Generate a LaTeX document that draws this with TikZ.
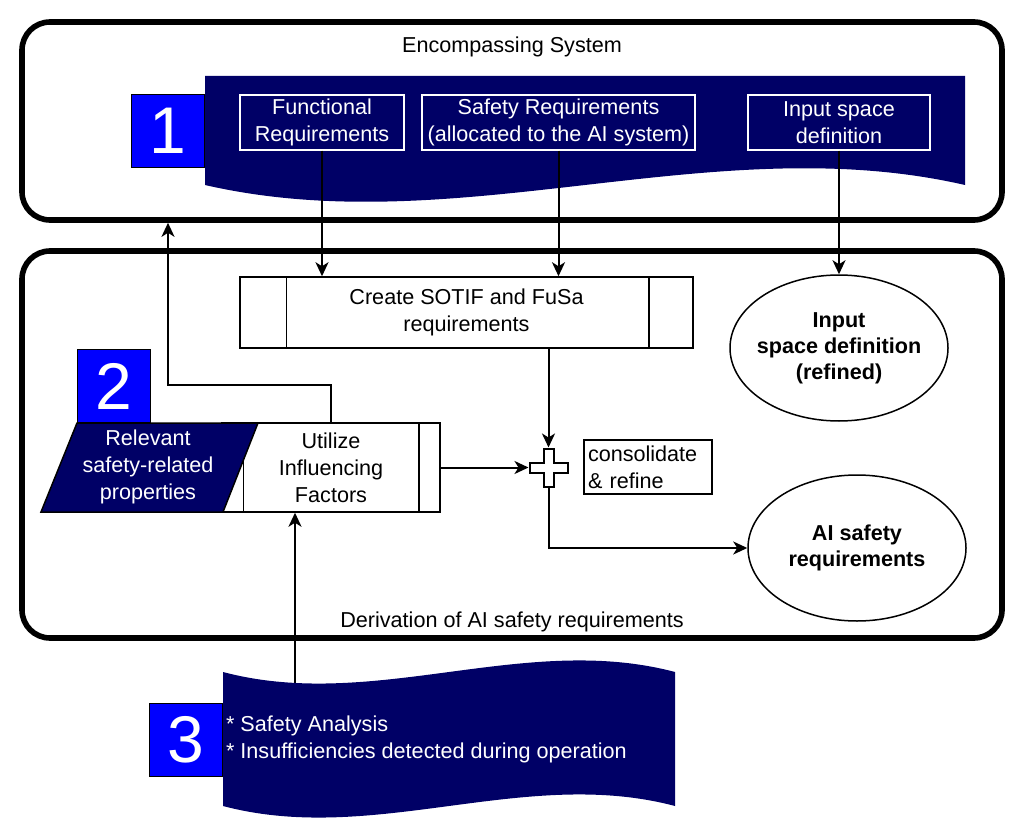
\documentclass[tikz,border=0pt]{standalone}
\usepackage{fontspec}
\setmainfont{Liberation Sans}
\usetikzlibrary{
    arrows.meta,
    positioning,
    shapes.geometric,
    calc
}
\definecolor{DeepNavy}{RGB}{0,0,102}
\definecolor{PureBlue}{RGB}{0,0,255}

\begin{document}
\begin{tikzpicture}[
    x=0.5pt, y=-0.5pt,
    >={Stealth[length=7pt,width=6.5pt,inset=2pt]},
    every node/.style={font=\fontsize{10.8}{13.5}\selectfont},
    frame/.style={draw, line width=2.8pt, rounded corners=14pt},
    numbox/.style={draw, fill=PureBlue, text=white, minimum size=36.5pt,
        inner sep=0pt, font=\fontsize{33}{33}\selectfont},
    reqbox/.style={draw=white, line width=0.75pt, text=white, align=center,
        minimum height=27.5pt, inner sep=1pt},
    procbox/.style={draw, line width=0.75pt, fill=white, align=center, inner sep=0pt},
    oval/.style={draw, ellipse, line width=0.75pt, minimum width=109pt,
        minimum height=73pt, inner sep=0pt},
    ovaltext/.style={align=center, font=\fontsize{10.8}{13}\selectfont\bfseries},
    notebox/.style={draw, line width=0.75pt, align=left, text width=60pt,
        minimum height=27pt, inner sep=2pt},
    link/.style={->, line width=1pt}
]

\useasboundingbox (0,0) rectangle (1023,840);

% Frames
\node[frame, minimum width=490pt, minimum height=99pt] (encsys) at (512,121) {};
\node (encsyslabel) at (512,47) {Encompassing System};

\node[frame, minimum width=490pt, minimum height=193.5pt] (derive) at (512,444.5) {};
\node (derivelabel) at (512,622) {Derivation of AI safety requirements};

% Inputs from the encompassing system
\fill[DeepNavy]
    (205,76) -- (965,76) -- (965,185)
    .. controls (712,127) and (458,243) .. (205,185) -- cycle;

\node[numbox] (one) at (168,131) {1};

\node[reqbox, minimum width=82pt] (func) at (322,122.5)
    {Functional\\Requirements};
\node[reqbox, minimum width=136.5pt] (safety) at (558.5,122.5)
    {Safety Requirements\\(allocated to the AI system)};
\node[reqbox, minimum width=91pt] (inspace) at (839,122.5)
    {Input space\\definition};

% Derivation
\node[procbox, minimum width=226.5pt, minimum height=35.5pt] (create) at (466.5,312.5)
    {Create SOTIF and FuSa\\requirements};
\draw[line width=0.75pt]
    ($(create.north west)+(47,0)$) -- ($(create.south west)+(47,0)$);
\draw[line width=0.75pt]
    ($(create.north east)+(-45,0)$) -- ($(create.south east)+(-45,0)$);

\node[oval] (insprefined) at (839,348) {};
\node[ovaltext] (insprefinedtext) at (insprefined)
    {Input\\space definition\\(refined)};

\node[oval] (aireq) at (857,548) {};
\node[ovaltext] (aireqtext) at (aireq)
    {AI safety\\requirements};

\node[procbox, minimum width=109pt, minimum height=44.5pt] (utilize) at (331,467.5)
    {Utilize\\Influencing\\Factors};
\draw[line width=0.75pt]
    ($(utilize.north west)+(22,0)$) -- ($(utilize.south west)+(22,0)$);
\draw[line width=0.75pt]
    ($(utilize.north east)+(-22,0)$) -- ($(utilize.south east)+(-22,0)$);

\filldraw[fill=DeepNavy, draw=black, line width=0.75pt]
    (77,423) -- (258,423) -- (223,512) -- (41,512) -- cycle;
\node[text=white, align=center] (relprop) at (148,467)
    {Relevant\\safety-related\\properties};

\node[numbox] (two) at (113.5,386) {2};

% Plus
\coordinate (plus) at (548.5,467.5);
\draw[line width=1pt, fill=white]
    (plus) ++(-5,-19) -- ++(10,0) -- ++(0,14) -- ++(14,0) -- ++(0,10)
    -- ++(-14,0) -- ++(0,14) -- ++(-10,0) -- ++(0,-14) -- ++(-14,0)
    -- ++(0,-10) -- ++(14,0) -- cycle;

\node[notebox] (consol) at (648,467) {consolidate\\\& refine};

% Connectors
\draw[link] (func.south) -- (func.south |- create.north);
\draw[link] (safety.south) -- (safety.south |- create.north);
\draw[link] (inspace.south) -- (insprefined.north);

\draw[link] (create.south -| plus) -- ($(plus)+(0,-20)$);
\draw[link] (utilize.east) -- ($(plus)+(-20,0)$);
\draw[link] ($(plus)+(0,19)$) |- (aireq.west);

\coordinate (bend) at (168,385);
\draw[link] (utilize.north) |- (bend) -- (bend |- encsys.south);

\coordinate (t3top) at (295,684);
\draw[link] (t3top) -- (t3top |- utilize.south);

% Analysis feedback
\fill[DeepNavy]
    (223,672) .. controls (374,712) and (524,632) .. (675,672)
    -- (675,806) .. controls (524,766) and (374,846) .. (223,806) -- cycle;

\node[anchor=west, text=white, align=left] (analysis) at (219,739)
    {* Safety Analysis\\* Insufficiencies detected during operation};

\node[numbox] (three) at (186,740) {3};

\end{tikzpicture}
\end{document}
